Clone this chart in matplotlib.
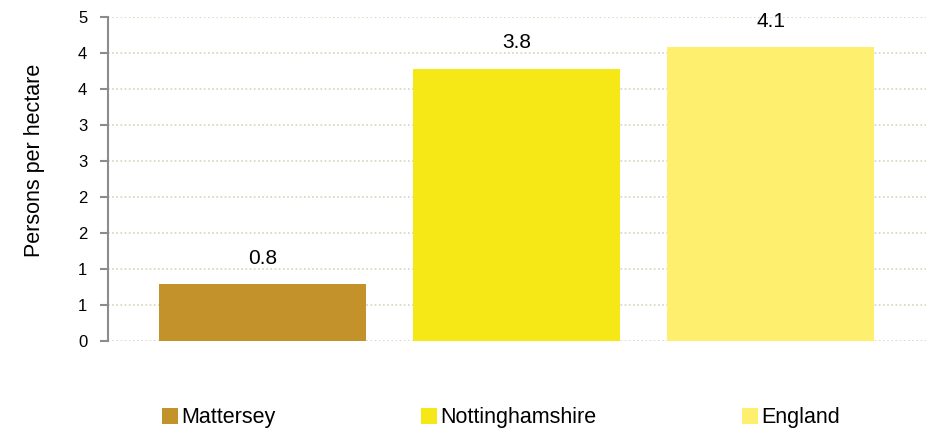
import matplotlib
matplotlib.use("Agg")
import matplotlib.pyplot as plt
from matplotlib.patches import Patch
from matplotlib.ticker import FixedLocator, FixedFormatter

plt.rcParams['font.family'] = ['Liberation Sans', 'DejaVu Sans']

categories = ["Mattersey", "Nottinghamshire", "England"]
values = [0.79, 3.78, 4.08]
value_labels = ["0.8", "3.8", "4.1"]
colors = ["#C4922A", "#F5E816", "#FEF06E"]
ytick_values = [0, 0.5, 1, 1.5, 2, 2.5, 3, 3.5, 4, 4.5]
ytick_labels = ["0", "1", "1", "2", "2", "3", "3", "4", "4", "5"]

fig = plt.figure(figsize=(9.26, 4.30), dpi=100)
ax = fig.add_axes([108/926, 89/430, (926-108)/926, (341-17)/430])

x = list(range(len(categories)))
ax.bar(x, values, width=0.815, color=colors, zorder=3)
for xi, v, lab in zip(x, values, value_labels):
    ax.text(xi, v + 0.23, lab, ha='center', va='bottom', fontsize=15)

ax.set_xlim(-0.608, 2.612)
ax.set_ylim(0, 4.5)
ax.yaxis.set_major_locator(FixedLocator(ytick_values))
ax.yaxis.set_major_formatter(FixedFormatter(ytick_labels))
ax.set_xticks([])
ax.grid(axis='y', color='#D8D3BE', linestyle=(0, (1, 1.5)), linewidth=1.2, zorder=0)
ax.set_axisbelow(True)
for s in ['top', 'right', 'bottom']:
    ax.spines[s].set_visible(False)
ax.spines['left'].set_color('#8C8C8C')
ax.spines['left'].set_linewidth(1.5)
ax.tick_params(axis='y', colors='#8C8C8C', labelcolor='black', labelsize=12, length=6, width=1.5, pad=9)
ax.set_ylabel("Persons per hectare", fontsize=15.5)
ax.yaxis.set_label_coords((45 - 108) / 818, (341 - 160) / 324)

handles = [Patch(facecolor=c, label=l) for c, l in zip(colors, categories)]
fig.legend(handles=handles, loc='center', bbox_to_anchor=(0.541, 1 - 418/430), ncol=3,
           frameon=False, fontsize=15.5, handlelength=0.74, handleheight=0.74, handletextpad=0.15,
           columnspacing=6.75)

fig.savefig("out.png", dpi=100)
